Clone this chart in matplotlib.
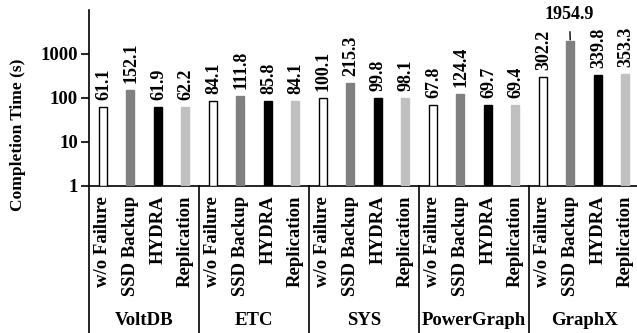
import matplotlib
matplotlib.use("Agg")
import matplotlib.pyplot as plt
import matplotlib.transforms as mtransforms
import numpy as np

plt.rcParams['font.family'] = ['Liberation Serif', 'DejaVu Serif']
plt.rcParams['font.weight'] = 'bold'

groups = ["VoltDB", "ETC", "SYS", "PowerGraph", "GraphX"]
methods = ["w/o Failure", "SSD Backup", "HYDRA", "Replication"]
values = {
    "w/o Failure": [61.1, 84.1, 100.1, 67.8, 302.2],
    "SSD Backup": [152.1, 111.8, 215.3, 124.4, 1954.9],
    "HYDRA": [61.9, 85.8, 99.8, 69.7, 339.8],
    "Replication": [62.2, 84.1, 98.1, 69.4, 353.3],
}
value_labels = {
    "w/o Failure": ["61.1", "84.1", "100.1", "67.8", "302.2"],
    "SSD Backup": ["152.1", "111.8", "215.3", "124.4", "1954.9"],
    "HYDRA": ["61.9", "85.8", "99.8", "69.7", "339.8"],
    "Replication": ["62.2", "84.1", "98.1", "69.4", "353.3"],
}
colors = {"w/o Failure": "white", "SSD Backup": "#808080",
          "HYDRA": "black", "Replication": "#c0c0c0"}
yticks = [1, 10, 100, 1000]

fig = plt.figure(figsize=(6.37, 3.33), dpi=100)
ax = fig.add_axes([89/637, 1-186/333, 550/637, 176/333])

nm = len(methods)
bw = 0.29
xt, xl = [], []
for g in range(len(groups)):
    for m, meth in enumerate(methods):
        x = g*nm + m + 0.5
        v = values[meth][g]
        ax.bar(x, v, width=bw, bottom=1, color=colors[meth],
               edgecolor='black' if meth == "w/o Failure" else colors[meth],
               linewidth=1.0, zorder=3)
        xt.append(x); xl.append(meth)
        lab = value_labels[meth][g]
        if v > 1500:
            ax.annotate(lab, xy=(x, v), xytext=(x - 0.03, 10**3.89),
                        ha='center', va='center', fontsize=13, fontweight='bold',
                        arrowprops=dict(arrowstyle='-', lw=1.0, color='black',
                                        shrinkA=4, shrinkB=1),
                        annotation_clip=False)
        else:
            ax.annotate(lab, xy=(x, v), xytext=(0.5, 5), textcoords='offset points',
                        rotation=90, ha='center', va='bottom',
                        fontsize=13, fontweight='bold')

ax.set_yscale('log')
ax.set_ylim(1, 10000)
ax.set_xlim(0, nm*len(groups))
ax.set_yticks(yticks)
ax.set_yticklabels([str(t) for t in yticks], fontsize=13.5, fontweight='bold')
ax.yaxis.set_minor_locator(matplotlib.ticker.NullLocator())
ax.tick_params(axis='y', direction='out', length=6, width=1.2, pad=2)
ax.set_xticks(xt)
ax.set_xticklabels(xl, rotation=90, fontsize=13.5, fontweight='bold')
ax.tick_params(axis='x', length=0, pad=7)

for s in ['top', 'right']:
    ax.spines[s].set_visible(False)
ax.spines['left'].set_linewidth(1.2)
ax.spines['bottom'].set_linewidth(1.2)

ax.set_ylabel("Completion Time (s)", fontsize=12.5, fontweight='bold')
ax.yaxis.set_label_coords(-0.115, 0.29)

trans = mtransforms.blended_transform_factory(ax.transData, ax.transAxes)
for g in range(len(groups) + 1):
    ax.plot([g*nm, g*nm], [0, -1.1], transform=trans, color='black',
            lw=1.2, clip_on=False)
for g, name in enumerate(groups):
    ax.text(g*nm + nm/2, -0.765, name, transform=trans, ha='center', va='center',
            fontsize=13.5, fontweight='bold')

fig.savefig("out.png", dpi=100)
